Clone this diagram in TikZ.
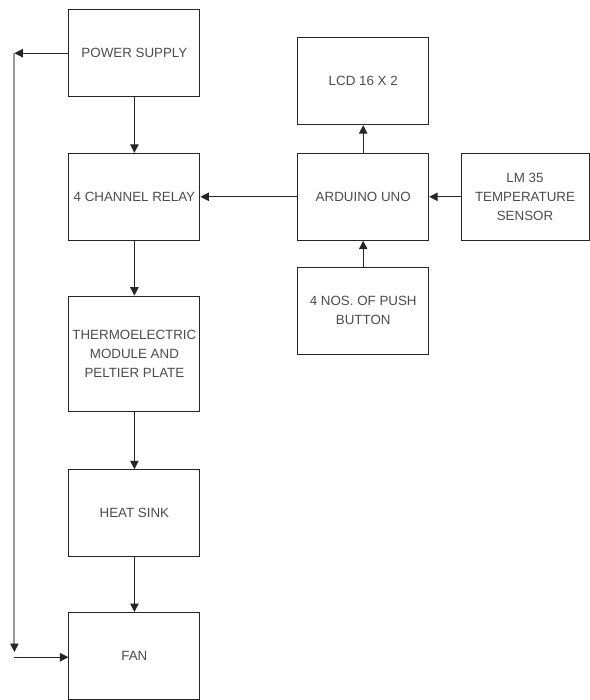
\documentclass[tikz,border=0pt]{standalone}
\usepackage{fontspec}
\setmainfont{Liberation Sans}
\usetikzlibrary{arrows.meta}

\begin{document}
\begin{tikzpicture}[
    >={Triangle[width=6pt,length=6pt]},
    block/.style={draw=black!85, line width=0.7pt, minimum width=3.275cm, minimum height=2.175cm,
        inner sep=1pt, align=center, font=\fontsize{9.5}{13.5}\selectfont, text=black!70},
    arrow/.style={->, line width=0.7pt, draw=black!85}
]
\useasboundingbox (0,0) rectangle (14.725,-17.5);

% Left column: power path down to the fan
\node[block] (ps) at (3.36,-1.33) {POWER SUPPLY};
\node[block] (relay) at (3.36,-4.92) {4 CHANNEL RELAY};
\node[block, minimum height=2.875cm] (tec) at (3.36,-8.84) {THERMOELECTRIC\\MODULE AND\\PELTIER PLATE};
\node[block] (sink) at (3.36,-12.83) {HEAT SINK};
\node[block] (fan) at (3.36,-16.4) {FAN};

% Right part: controller and its peripherals
\node[block] (lcd) at (9.08,-2.03) {LCD 16 X 2};
\node[block] (uno) at (9.08,-4.92) {ARDUINO UNO};
\node[block, minimum width=3.2cm] (lm35) at (13.125,-4.92) {LM 35\\TEMPERATURE\\SENSOR};
\node[block] (btn) at (9.08,-7.77) {4 NOS. OF PUSH\\BUTTON};

% Vertical chain
\draw[arrow] (ps) -- (relay);
\draw[arrow] (relay) -- (tec);
\draw[arrow] (tec) -- (sink);
\draw[arrow] (sink) -- (fan);

% Arduino connections
\draw[arrow] (uno) -- (relay);
\draw[arrow] (uno) -- (lcd);
\draw[arrow] (lm35) -- (uno);
\draw[arrow] (btn) -- (uno);

% Side loop from power supply to fan
\coordinate (top) at (0.36,-1.33);
\coordinate (bot) at (0.36,-16.3);
\coordinate (corner) at (0.36,-16.43);
\draw[arrow] (ps.west) -- (top);
\draw[-{Triangle[width=6pt,length=6pt,color=black!85,line width=0.5pt]}, line width=1.3pt, draw=black!40] (top) -- (bot);
\draw[arrow] (corner) -- (corner -| fan.west);

\end{tikzpicture}
\end{document}
